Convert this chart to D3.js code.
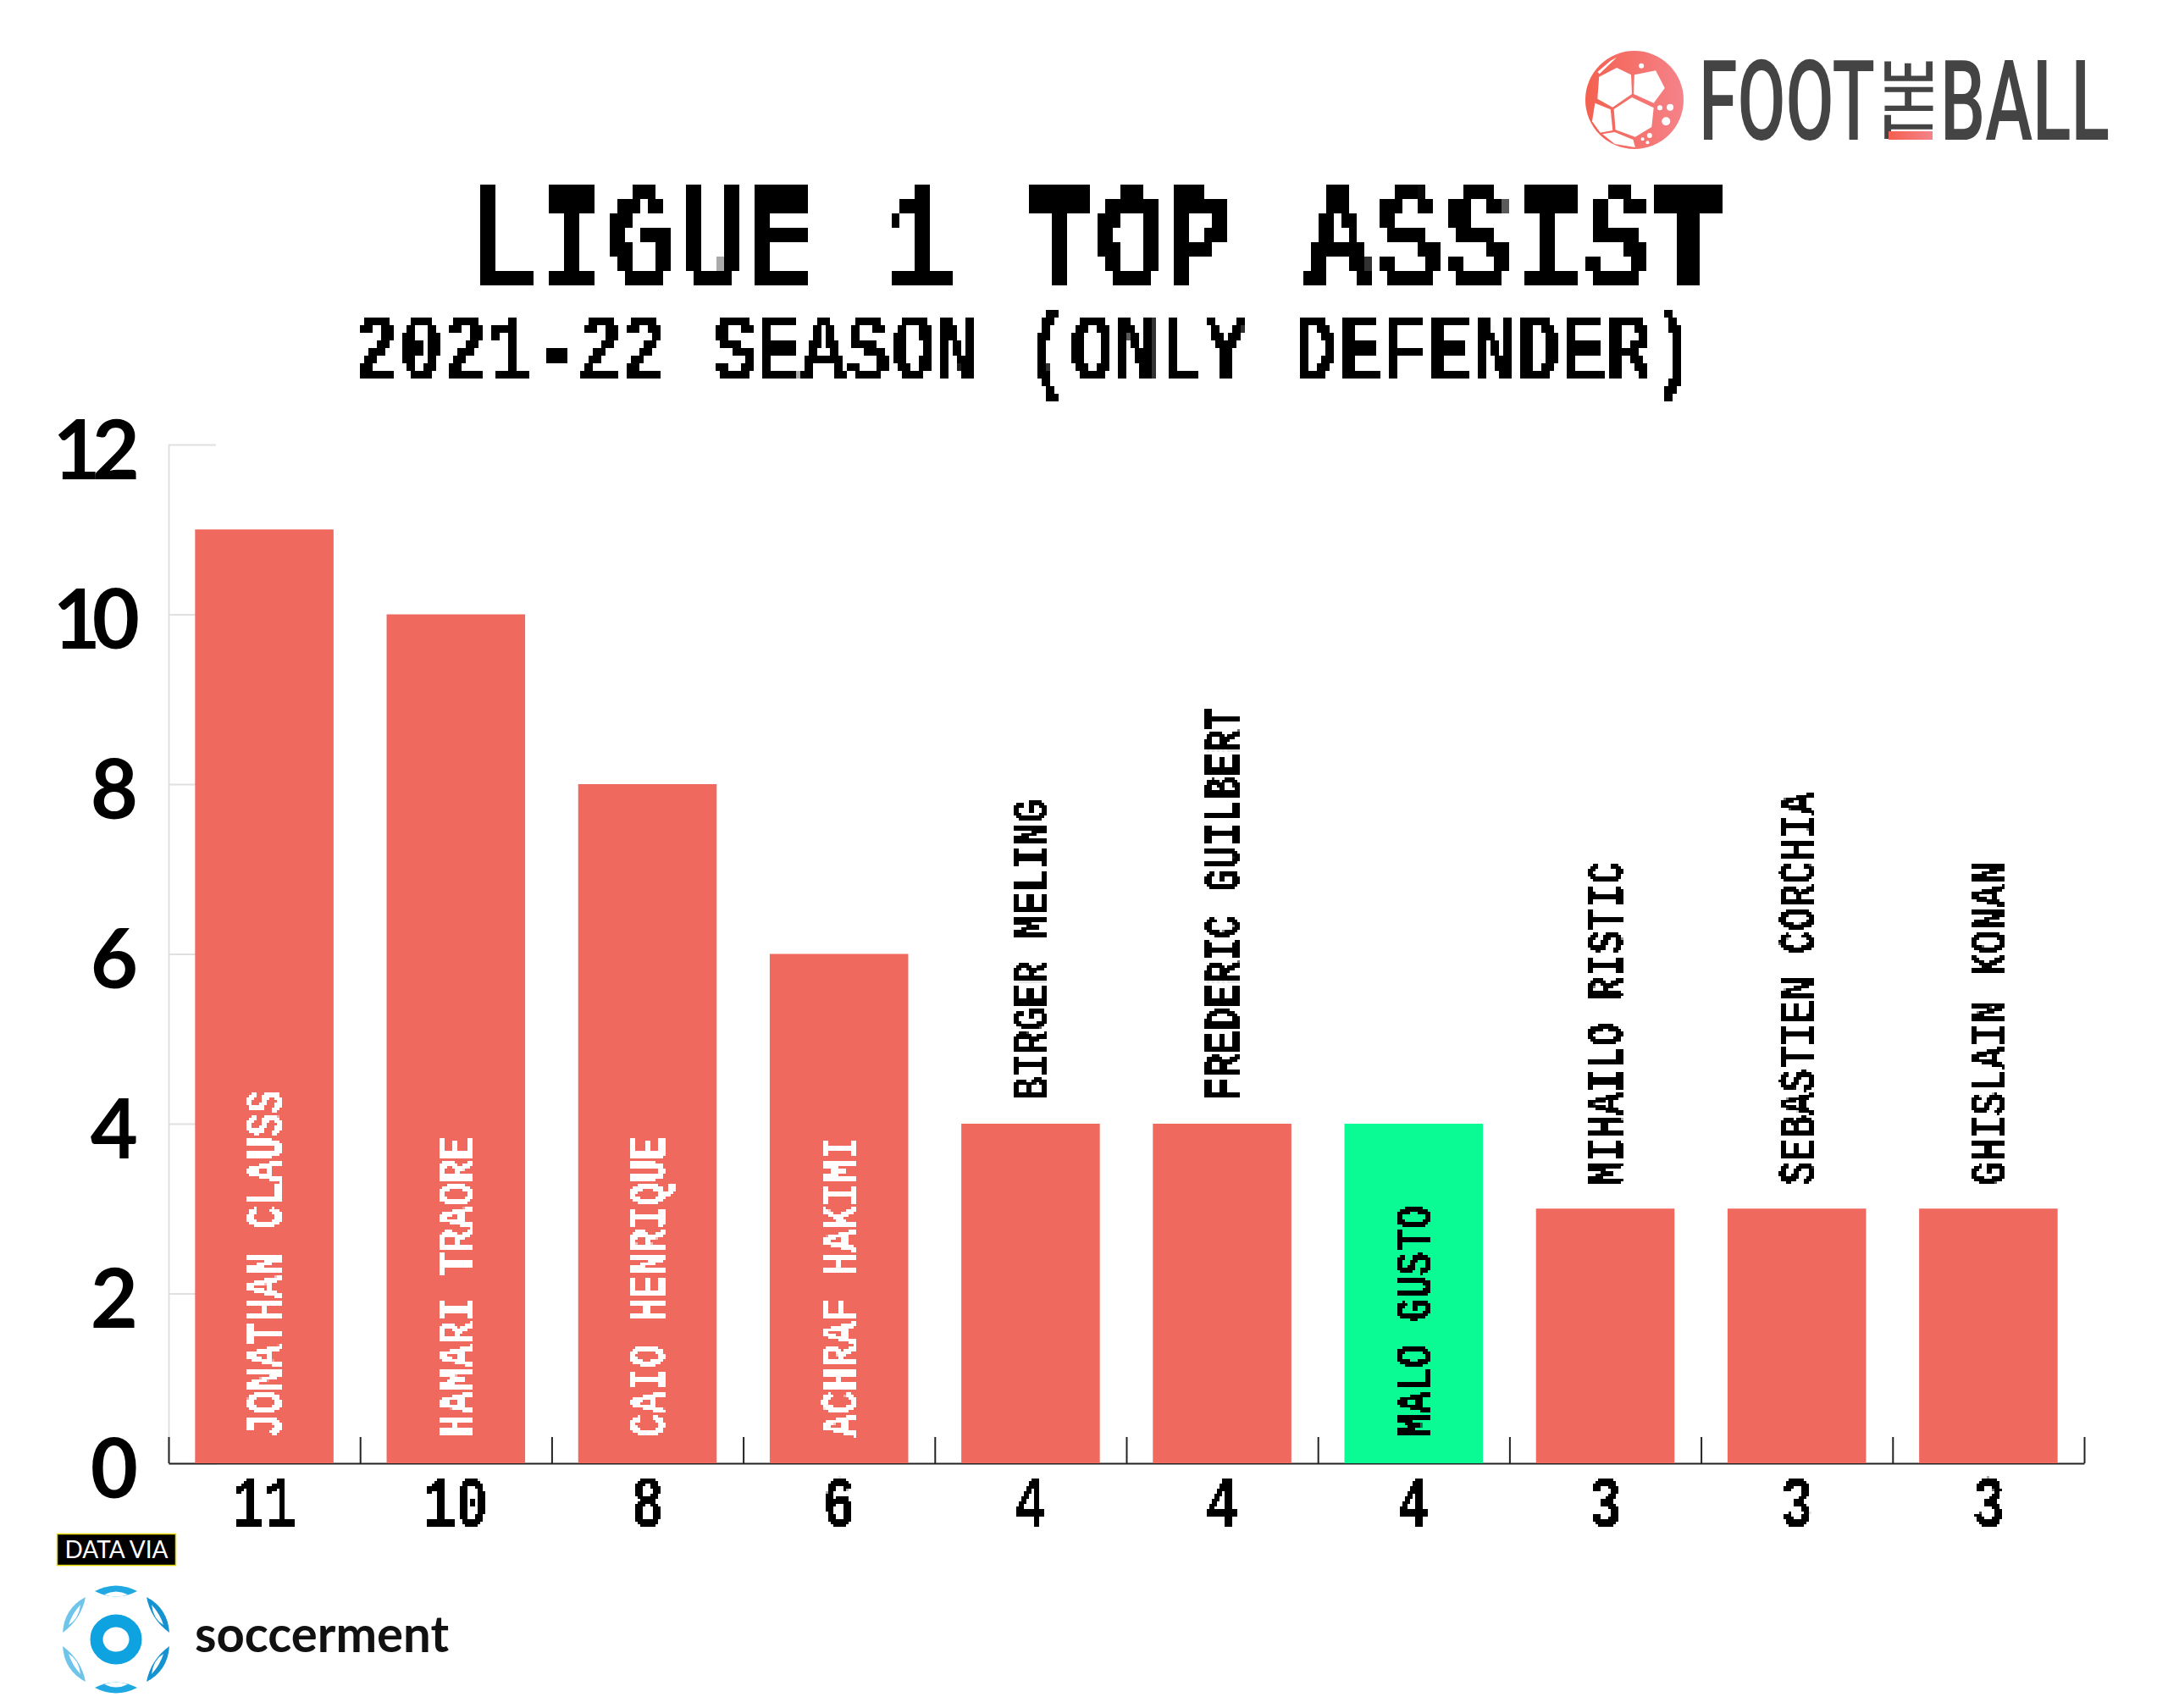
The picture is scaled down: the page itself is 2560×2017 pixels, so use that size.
<!DOCTYPE html>
<html>
<head>
<meta charset="utf-8">
<script src="https://cdn.jsdelivr.net/npm/d3@7"></script>
<style>
  html, body { margin: 0; background: #fff; }
  svg { display: block; }
  .mono { font-family: "Liberation Mono", monospace; font-weight: 700; }
</style>
</head>
<body>
<svg id="chart" width="2560" height="2017"></svg>
<script>
const players = ["JONATHAN CLAUSS", "HAMARI TRAORE", "CAIO HENRIQUE", "ACHRAF HAKIMI", "BIRGER MELING",
  "FREDERIC GUILBERT", "MALO GUSTO", "MIHAILO RISTIC", "SEBASTIEN CORCHIA", "GHISLAIN KONAN"];
const assists = [11, 10, 8, 6, 4, 4, 4, 3, 3, 3];
const highlighted = ["MALO GUSTO"];
const yTicks = [0, 2, 4, 6, 8, 10, 12];

const barColor = "#f0695f";
const greenColor = "#0afb94";

const svg = d3.select("#chart");
const defs = svg.append("defs");

// width of one character in the squeezed mono font
const charWidth = 27.3;

const xScale = d3.scaleBand().domain(players).range([199, 2461]).paddingInner(0.277).paddingOuter(0.1385);
const xTicks = d3.scaleLinear().domain([0, players.length]).range([199, 2461]);
const yScale = d3.scaleLinear().domain([0, 12]).range([1728, 525]);

// blocky look of the original bitmap type: sample the text on a grid, then grow each sample
function addPixelFilter(id, w, h, oy) {
  const f = defs.append("filter").attr("id", id)
    .attr("filterUnits", "userSpaceOnUse")
    .attr("x", 0).attr("y", 0).attr("width", 2560).attr("height", 2017)
    .attr("color-interpolation-filters", "sRGB");
  f.append("feFlood").attr("x", Math.floor(w / 2)).attr("y", oy + Math.floor(h / 2))
    .attr("width", 1).attr("height", 1).attr("flood-color", "#000");
  f.append("feComposite").attr("x", 0).attr("y", oy).attr("width", w).attr("height", h);
  f.append("feTile").attr("result", "grid");
  f.append("feComposite").attr("in", "SourceGraphic").attr("in2", "grid").attr("operator", "in");
  f.append("feMorphology").attr("operator", "dilate").attr("radius", `${Math.floor(w / 2)} ${Math.floor(h / 2)}`);
  f.append("feComponentTransfer").append("feFuncA")
    .attr("type", "linear").attr("slope", 20).attr("intercept", -9);
}
addPixelFilter("pixel-title", 9, 17, 14);
addPixelFilter("pixel-sub", 5, 9, 6);
addPixelFilter("pixel-small", 3, 3, 0);

// ---- titles ----
svg.append("text").attr("class", "mono")
  .attr("x", 552).attr("y", 337)
  .attr("font-size", 168)
  .attr("textLength", 1482).attr("lengthAdjust", "spacingAndGlyphs")
  .attr("filter", "url(#pixel-title)")
  .text("LIGUE 1 TOP ASSIST");

svg.append("text").attr("class", "mono")
  .attr("x", 418).attr("y", 447)
  .attr("font-size", 110)
  .attr("textLength", 1584).attr("lengthAdjust", "spacingAndGlyphs")
  .attr("filter", "url(#pixel-sub)")
  .text("2021-22 SEASON (ONLY DEFENDER)");

// ---- y axis, ticks run behind the bars ----
const yAxis = svg.append("g")
  .attr("transform", "translate(199,0)")
  .call(d3.axisLeft(yScale).tickValues(yTicks).tickSize(-56).tickSizeOuter(0).tickPadding(36));
yAxis.selectAll("line, path").attr("stroke", "#e0e0e0").attr("stroke-width", 2);
yAxis.selectAll("text")
  .attr("dy", 40)
  .attr("dx", d => d >= 10 ? -8 : 0)
  .attr("fill", "#000")
  .attr("font-family", "Lato")
  .attr("font-weight", 700)
  .attr("font-size", 97)
  .attr("letter-spacing", d => d >= 10 ? -10 : 0);

// ---- x axis ticks sit between the bars ----
const xAxis = svg.append("g")
  .attr("transform", "translate(0,1728)")
  .call(d3.axisBottom(xTicks).ticks(players.length).tickSize(-31).tickSizeOuter(0).tickFormat(""));
xAxis.selectAll("line, path").attr("stroke", "#222").attr("stroke-width", 2);

// ---- bars ----
svg.append("g").selectAll("rect")
  .data(players)
  .enter().append("rect")
  .attr("x", d => xScale(d))
  .attr("y", (d, i) => yScale(assists[i]))
  .attr("width", xScale.bandwidth())
  .attr("height", (d, i) => yScale(0) - yScale(assists[i]))
  .attr("fill", d => highlighted.includes(d) ? greenColor : barColor);

// ---- value labels under the axis ----
svg.append("g").attr("filter", "url(#pixel-small)").selectAll("text")
  .data(assists)
  .enter().append("text")
  .attr("class", "mono")
  .attr("x", (d, i) => xScale(players[i]) + xScale.bandwidth() / 2)
  .attr("y", 1803)
  .attr("text-anchor", "middle")
  .attr("font-size", 88)
  .attr("textLength", d => String(d).length * 38)
  .attr("lengthAdjust", "spacingAndGlyphs")
  .text(d => d);

// ---- player names, inside tall or highlighted bars, above the others ----
function isInside(name, value) { return value >= 6 || highlighted.includes(name); }

svg.append("g").attr("filter", "url(#pixel-small)").selectAll("text")
  .data(players)
  .enter().append("text")
  .attr("class", "mono")
  .attr("transform", (d, i) => {
    const x = xScale(d) + xScale.bandwidth() / 2 + 20;
    const y = isInside(d, assists[i]) ? 1697 : yScale(assists[i]) - 28;
    return `translate(${x},${y}) rotate(-90)`;
  })
  .attr("font-size", 61)
  .attr("textLength", d => d.length * charWidth)
  .attr("lengthAdjust", "spacingAndGlyphs")
  .attr("fill", (d, i) => highlighted.includes(d) ? "#000" : (isInside(d, assists[i]) ? "#fff" : "#000"))
  .text(d => d);

// ---- FootTheBall logo ----
const logoGrad = defs.append("linearGradient").attr("id", "logo-gradient");
logoGrad.append("stop").attr("offset", "0%").attr("stop-color", "#f4604f");
logoGrad.append("stop").attr("offset", "100%").attr("stop-color", "#f5838a");

const logoPx = ([x, y]) => [1800 + x / 2.063, 30 + y / 3];
const ballPatches = [
  [[262, 255], [315, 292], [310, 360], [270, 395], [222, 370], [218, 297]],
  [[268, 175], [320, 160], [342, 222], [315, 275], [266, 243]],
  [[225, 150], [260, 175], [262, 243], [215, 290], [178, 260], [182, 182]],
  [[172, 275], [210, 298], [215, 372], [185, 380], [165, 340]],
  [[190, 385], [220, 378], [265, 405], [270, 432], [220, 420]],
  [[183, 172], [225, 113], [210, 125], [178, 165]]
];
const ballDots = [[285, 143, 3], [330, 292, 3], [355, 290, 4], [345, 340, 5], [305, 390, 3], [288, 403, 2], [300, 415, 2]];

const logo = svg.append("g");
logo.append("circle").attr("cx", 1930).attr("cy", 118).attr("r", 58).attr("fill", "url(#logo-gradient)");
logo.selectAll("polygon").data(ballPatches).enter().append("polygon")
  .attr("points", d => d.map(logoPx).join(" "))
  .attr("fill", "#fff");
logo.selectAll("circle.dot").data(ballDots).enter().append("circle")
  .attr("class", "dot")
  .attr("cx", d => logoPx(d)[0]).attr("cy", d => logoPx(d)[1]).attr("r", d => d[2])
  .attr("fill", "#fff");

const logoText = (txt, x, width) => logo.append("text")
  .attr("x", x).attr("y", 165)
  .attr("font-family", "Roboto").attr("font-weight", 500).attr("font-size", 132)
  .attr("fill", "#444")
  .attr("textLength", width).attr("lengthAdjust", "spacingAndGlyphs")
  .text(txt);
logoText("FOOT", 2006, 208);
logoText("BALL", 2291, 200);

logo.append("text")
  .attr("transform", "translate(2282,165) rotate(-90)")
  .attr("font-family", "Roboto").attr("font-weight", 500).attr("font-size", 80)
  .attr("fill", "#444")
  .attr("textLength", 94).attr("lengthAdjust", "spacingAndGlyphs")
  .text("THE");
logo.append("rect").attr("x", 2230).attr("y", 155).attr("width", 52).attr("height", 10).attr("fill", "url(#logo-gradient)");

// ---- data source ----
svg.append("rect").attr("x", 67.5).attr("y", 1811.5).attr("width", 140).attr("height", 37)
  .attr("fill", "#000").attr("stroke", "#e8d800").attr("stroke-width", 1.5);
svg.append("text")
  .attr("x", 137.5).attr("y", 1840)
  .attr("text-anchor", "middle")
  .attr("font-family", "Lato").attr("font-size", 28)
  .attr("fill", "#fff")
  .attr("textLength", 122).attr("lengthAdjust", "spacing")
  .text("DATA VIA");

const srcLogo = svg.append("g").attr("transform", "translate(137,1936)");
srcLogo.append("ellipse").attr("rx", 23).attr("ry", 22)
  .attr("fill", "none").attr("stroke", "#0fa2e0").attr("stroke-width", 15);

// crescents around the ring, drawn once and mirrored
const capShape = "M-25,-57 Q0,-70 25,-57 Q0,-44 -25,-57Z";
const capNotch = "M-14,-53 Q0,-60 14,-53 Q0,-48 -14,-53Z";
const sideShape = "M36,-50 Q61,-37 63,-8 Q41,-24 36,-50Z";
const sideNotch = "M42,-41 Q52,-30 56,-17 Q44,-24 42,-41Z";
const srcMarks = [
  { shape: capShape, notch: capNotch, sx: 1, sy: 1, color: "#1fa8e2" },
  { shape: capShape, notch: capNotch, sx: 1, sy: -1, color: "#1fa8e2" },
  { shape: sideShape, notch: sideNotch, sx: 1, sy: 1, color: "#1593d0" },
  { shape: sideShape, notch: sideNotch, sx: 1, sy: -1, color: "#1593d0" },
  { shape: sideShape, notch: sideNotch, sx: -1, sy: 1, color: "#6fc4ea" },
  { shape: sideShape, notch: sideNotch, sx: -1, sy: -1, color: "#6fc4ea" }
];
const marks = srcLogo.selectAll("g.mark").data(srcMarks).enter().append("g")
  .attr("class", "mark")
  .attr("transform", d => `scale(${d.sx},${d.sy})`);
marks.append("path").attr("d", d => d.shape).attr("fill", d => d.color);
marks.append("path").attr("d", d => d.notch).attr("fill", "#fff");

svg.append("text")
  .attr("x", 230).attr("y", 1951)
  .attr("font-family", "Lato").attr("font-weight", 700).attr("font-size", 59)
  .attr("fill", "#111")
  .attr("textLength", 300).attr("lengthAdjust", "spacingAndGlyphs")
  .text("soccerment");
</script>
</body>
</html>
